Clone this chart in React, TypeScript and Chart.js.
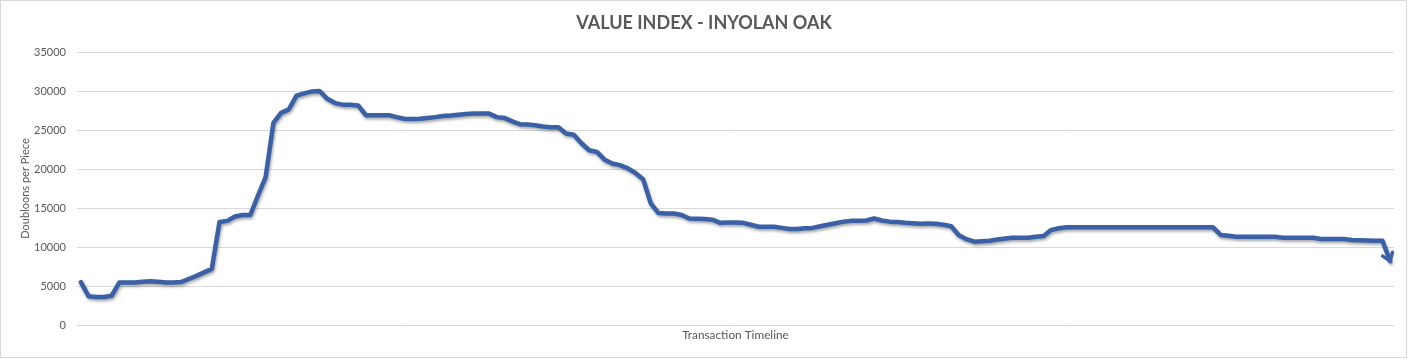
import { useEffect, useRef } from "react";
import { Chart, registerables } from "chart.js";

Chart.register(...registerables);

const chartTitle = "VALUE INDEX - INYOLAN OAK";
const yAxisTitle = "Doubloons per Piece";
const xAxisTitle = "Transaction Timeline";
const yTickValues = [0, 5000, 10000, 15000, 20000, 25000, 30000, 35000];

const doubloonsPerPiece = [
  5500, 3700, 3600, 3600, 3750, 5450, 5450, 5450, 5550, 5600,
  5550, 5450, 5450, 5500, 5900, 6300, 6750, 7200, 13200, 13350,
  13900, 14100, 14100, 16600, 19000, 25900, 27200, 27650, 29400, 29700,
  29950, 30000, 29000, 28450, 28250, 28250, 28150, 26900, 26900, 26900,
  26900, 26650, 26450, 26400, 26450, 26550, 26650, 26800, 26850, 26950,
  27050, 27100, 27100, 27100, 26650, 26550, 26100, 25750, 25700, 25600,
  25450, 25350, 25350, 24550, 24400, 23300, 22400, 22200, 21200, 20700,
  20500, 20100, 19500, 18700, 15600, 14350, 14300, 14300, 14100, 13650,
  13630, 13600, 13500, 13100, 13150, 13150, 13100, 12850, 12600, 12600,
  12600, 12450, 12300, 12300, 12400, 12450, 12650, 12850, 13050, 13250,
  13350, 13370, 13400, 13650, 13400, 13250, 13200, 13100, 13050, 12990,
  13000, 12990, 12850, 12650, 11500, 11000, 10680, 10750, 10800, 10950,
  11100, 11200, 11200, 11200, 11300, 11400, 12200, 12400, 12520, 12520,
  12520, 12520, 12520, 12520, 12520, 12520, 12520, 12520, 12520, 12520,
  12520, 12520, 12520, 12520, 12520, 12520, 12520, 12520, 11550, 11450,
  11320, 11320, 11320, 11320, 11320, 11320, 11200, 11190, 11190, 11190,
  11190, 11030, 11030, 11030, 11030, 10900, 10850, 10820, 10810, 10800,
  8200,
];

const transactionLabels = doubloonsPerPiece.map((_, i) => String(i + 1));

const LINE_COLOR = "#3A60A6";
const TEXT_COLOR = "#595959";
const GRID_COLOR = "#d9d9d9";

export default function App() {
  const canvasRef = useRef<HTMLCanvasElement | null>(null);

  useEffect(() => {
    document.body.style.margin = "0";
    const canvas = canvasRef.current;
    if (!canvas) return;

    const framePlugin = {
      id: "frame",
      beforeDraw(chart: any) {
        const ctx = chart.ctx;
        ctx.save();
        ctx.fillStyle = "#ffffff";
        ctx.fillRect(0, 0, chart.width, chart.height);
        ctx.strokeStyle = GRID_COLOR;
        ctx.lineWidth = 1;
        ctx.strokeRect(0.5, 0.5, 1406, 357);
        ctx.restore();
      },
    };

    const shadowPlugin = {
      id: "lineShadow",
      beforeDatasetDraw(chart: any) {
        const ctx = chart.ctx;
        ctx.save();
        ctx.shadowColor = "rgba(0,0,0,0.35)";
        ctx.shadowBlur = 3;
        ctx.shadowOffsetX = 1;
        ctx.shadowOffsetY = 2;
      },
      afterDatasetDraw(chart: any) {
        chart.ctx.restore();
      },
    };

    const arrowPlugin = {
      id: "endArrow",
      afterDatasetsDraw(chart: any) {
        const meta = chart.getDatasetMeta(0);
        const pts = meta.data;
        if (pts.length < 2) return;
        const a = pts[pts.length - 2];
        const b = pts[pts.length - 1];
        const ang = Math.atan2(b.y - a.y, b.x - a.x);
        const len = 9;
        const spread = Math.PI / 5;
        const ctx = chart.ctx;
        ctx.save();
        ctx.strokeStyle = LINE_COLOR;
        ctx.lineWidth = 3.5;
        ctx.lineJoin = "miter";
        ctx.lineCap = "round";
        ctx.beginPath();
        ctx.moveTo(b.x - len * Math.cos(ang - spread), b.y - len * Math.sin(ang - spread));
        ctx.lineTo(b.x, b.y);
        ctx.lineTo(b.x - len * Math.cos(ang + spread), b.y - len * Math.sin(ang + spread));
        ctx.stroke();
        ctx.restore();
      },
    };

    const chart = new Chart(canvas, {
      type: "line",
      data: {
        labels: transactionLabels,
        datasets: [
          {
            data: doubloonsPerPiece,
            borderColor: LINE_COLOR,
            backgroundColor: LINE_COLOR,
            borderWidth: 4.5,
            pointRadius: 0,
            pointHoverRadius: 0,
            tension: 0,
            fill: false,
            borderJoinStyle: "round",
            borderCapStyle: "round",
            yAxisID: "y",
          },
        ],
      },
      options: {
        responsive: false,
        animation: false,
        devicePixelRatio: 1,
        layout: { padding: { left: 0, right: 0, top: 0, bottom: 0 } },
        plugins: {
          legend: { display: false },
          tooltip: { enabled: false },
          title: {
            display: true,
            text: chartTitle,
            color: TEXT_COLOR,
            font: { family: "Lato", size: 18, weight: "bold" },
            padding: { top: 12.5, bottom: 17.9 },
          },
        },
        scales: {
          x: {
            type: "category",
            offset: true,
            grid: { display: false },
            border: { display: false },
            ticks: { display: false },
            title: {
              display: true,
              text: xAxisTitle,
              color: TEXT_COLOR,
              font: { family: "Lato", size: 11.8 },
              padding: { top: 0, bottom: 16.9 },
            },
            afterFit: (scale: any) => {
              scale.height = 34;
            },
          },
          y: {
            position: "left",
            min: 0,
            max: 35000,
            afterBuildTicks: (scale: any) => {
              scale.ticks = yTickValues.map((v) => ({ value: v }));
            },
            ticks: {
              color: TEXT_COLOR,
              font: { family: "Lato", size: 11 },
              padding: 11,
              callback: (v: any) => String(v),
            },
            grid: { color: GRID_COLOR, lineWidth: 1, drawTicks: false },
            border: { display: false },
            title: {
              display: true,
              text: yAxisTitle,
              color: TEXT_COLOR,
              font: { family: "Lato", size: 11 },
              padding: { top: 18.4, bottom: 0 },
            },
            afterFit: (scale: any) => {
              scale.width = 77;
            },
          },
          rightSpacer: {
            type: "linear",
            position: "right",
            min: 0,
            max: 35000,
            grid: { display: false, drawOnChartArea: false },
            border: { display: false },
            ticks: { display: false },
            afterFit: (scale: any) => {
              scale.width = 14;
            },
          },
        },
      },
      plugins: [framePlugin, shadowPlugin, arrowPlugin],
    } as any);

    return () => {
      chart.destroy();
    };
  }, []);

  return (
    <canvas
      ref={canvasRef}
      width={1408}
      height={359}
      style={{ display: "block", width: 1408, height: 359 }}
    />
  );
}
